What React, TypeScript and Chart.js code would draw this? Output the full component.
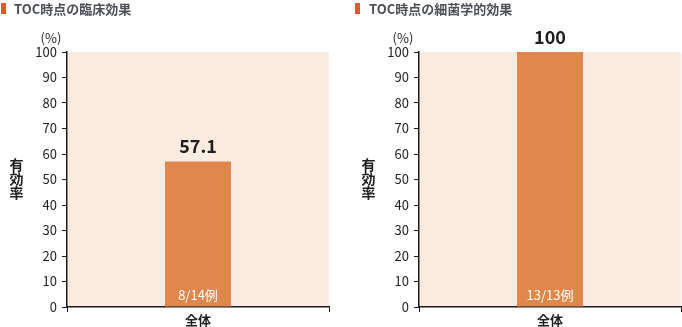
import React, { useEffect, useRef } from 'react';
import { Chart, registerables } from 'chart.js';

Chart.register(...registerables);

const categories = ['全体'];
const clinicalTitle = 'TOC時点の臨床効果';
const clinicalValues = [57.1];
const clinicalCases = ['8/14例'];
const bacterialTitle = 'TOC時点の細菌学的効果';
const bacterialValues = [100];
const bacterialCases = ['13/13例'];
const yMin = 0;
const yMax = 100;
const yStep = 10;
const yUnit = '(%)';
const yTitle = ['有', '効', '率'];

const FONT = "'Noto Sans CJK JP', 'Noto Sans', sans-serif";
const BAR = '#e0874e';
const PANEL = '#fbece2';
const MARK = '#e05a28';
const INK = '#1e1e1e';
const AXIS = '#1a1a1a';

const decorPlugin = {
  id: 'decor',
  beforeDraw(chart: any) {
    const { ctx, chartArea } = chart;
    ctx.save();
    ctx.fillStyle = PANEL;
    ctx.fillRect(chartArea.left, chartArea.top, chartArea.right - chartArea.left, chartArea.bottom - chartArea.top);
    ctx.restore();
  },
  afterDraw(chart: any, _args: any, opts: any) {
    const { ctx, chartArea } = chart;
    ctx.save();
    // heading with coloured marker
    ctx.fillStyle = MARK;
    ctx.fillRect(opts.markX, 3, 5, 11);
    ctx.fillStyle = '#4d5057';
    ctx.font = `bold 13px ${FONT}`;
    ctx.textAlign = 'left';
    ctx.textBaseline = 'middle';
    ctx.fillText(opts.title, opts.titleX, 9);

    // unit above the axis
    ctx.fillStyle = INK;
    ctx.font = `13px ${FONT}`;
    ctx.textAlign = 'center';
    ctx.fillText(yUnit, chartArea.left - 16, 38);

    // vertical axis title
    ctx.font = `bold 14px ${FONT}`;
    yTitle.forEach((ch, i) => {
      ctx.fillText(ch, chartArea.left - 50.5, 165 + i * 14);
    });

    // category names under the axis
    const xScale = chart.scales.x;
    ctx.font = `bold 13px ${FONT}`;
    chart.data.labels.forEach((label: string, i: number) => {
      ctx.fillText(label, xScale.getPixelForTick(i), chartArea.bottom + 13.5);
    });

    // value labels and case counts
    const meta = chart.getDatasetMeta(0);
    const ds = chart.data.datasets[0];
    meta.data.forEach((bar: any, i: number) => {
      ctx.fillStyle = INK;
      ctx.font = `bold 18px ${FONT}`;
      ctx.textBaseline = 'alphabetic';
      ctx.fillText(String(ds.data[i]), bar.x, bar.y - 8);
      ctx.fillStyle = '#ffffff';
      ctx.font = `13px ${FONT}`;
      ctx.textBaseline = 'middle';
      ctx.fillText(opts.cases[i], bar.x, chartArea.bottom - 12);
    });
    ctx.restore();
  },
};

type PanelProps = {
  left: number;
  width: number;
  axisWidth: number;
  title: string;
  markX: number;
  titleX: number;
  values: number[];
  cases: string[];
};

function BarPanel(p: PanelProps) {
  const ref = useRef<HTMLCanvasElement>(null);
  useEffect(() => {
    if (!ref.current) return;
    const chart = new Chart(ref.current, {
      type: 'bar',
      data: {
        labels: categories,
        datasets: [
          {
            data: p.values,
            backgroundColor: BAR,
            borderWidth: 0,
            categoryPercentage: 1,
            barPercentage: 0.252,
          },
        ],
      },
      options: {
        responsive: false,
        animation: false,
        devicePixelRatio: 1,
        layout: { padding: { top: 52, right: 1, bottom: 0, left: 0 } },
        plugins: {
          legend: { display: false },
          tooltip: { enabled: false },
          decor: { title: p.title, markX: p.markX, titleX: p.titleX, cases: p.cases },
        } as any,
        scales: {
          x: {
            offset: true,
            grid: { display: true, drawOnChartArea: false, drawTicks: true, tickLength: 5, color: AXIS, lineWidth: 1 },
            border: { display: true, color: AXIS, width: 1.5 },
            ticks: { display: false },
            afterFit: (s: any) => {
              s.height = 20;
            },
          },
          y: {
            min: yMin,
            max: yMax,
            grid: { display: true, drawOnChartArea: false, drawTicks: true, tickLength: 5, color: AXIS, lineWidth: 1 },
            border: { display: true, color: AXIS, width: 1.5 },
            ticks: { stepSize: yStep, color: INK, font: { family: FONT, size: 13 }, padding: 5 },
            afterFit: (s: any) => {
              s.width = p.axisWidth;
            },
          },
        },
      },
      plugins: [decorPlugin],
    });
    return () => chart.destroy();
  }, []);
  return (
    <canvas
      ref={ref}
      width={p.width}
      height={327}
      style={{ position: 'absolute', left: p.left, top: 0, width: p.width, height: 327 }}
    />
  );
}

export default function App() {
  return (
    <div style={{ position: 'fixed', left: 0, top: 0, width: 682, height: 327, background: '#ffffff' }}>
      <BarPanel
        left={0}
        width={330}
        axisWidth={67}
        title={clinicalTitle}
        markX={1}
        titleX={14}
        values={clinicalValues}
        cases={clinicalCases}
      />
      <BarPanel
        left={341}
        width={341}
        axisWidth={78}
        title={bacterialTitle}
        markX={14}
        titleX={28}
        values={bacterialValues}
        cases={bacterialCases}
      />
    </div>
  );
}
